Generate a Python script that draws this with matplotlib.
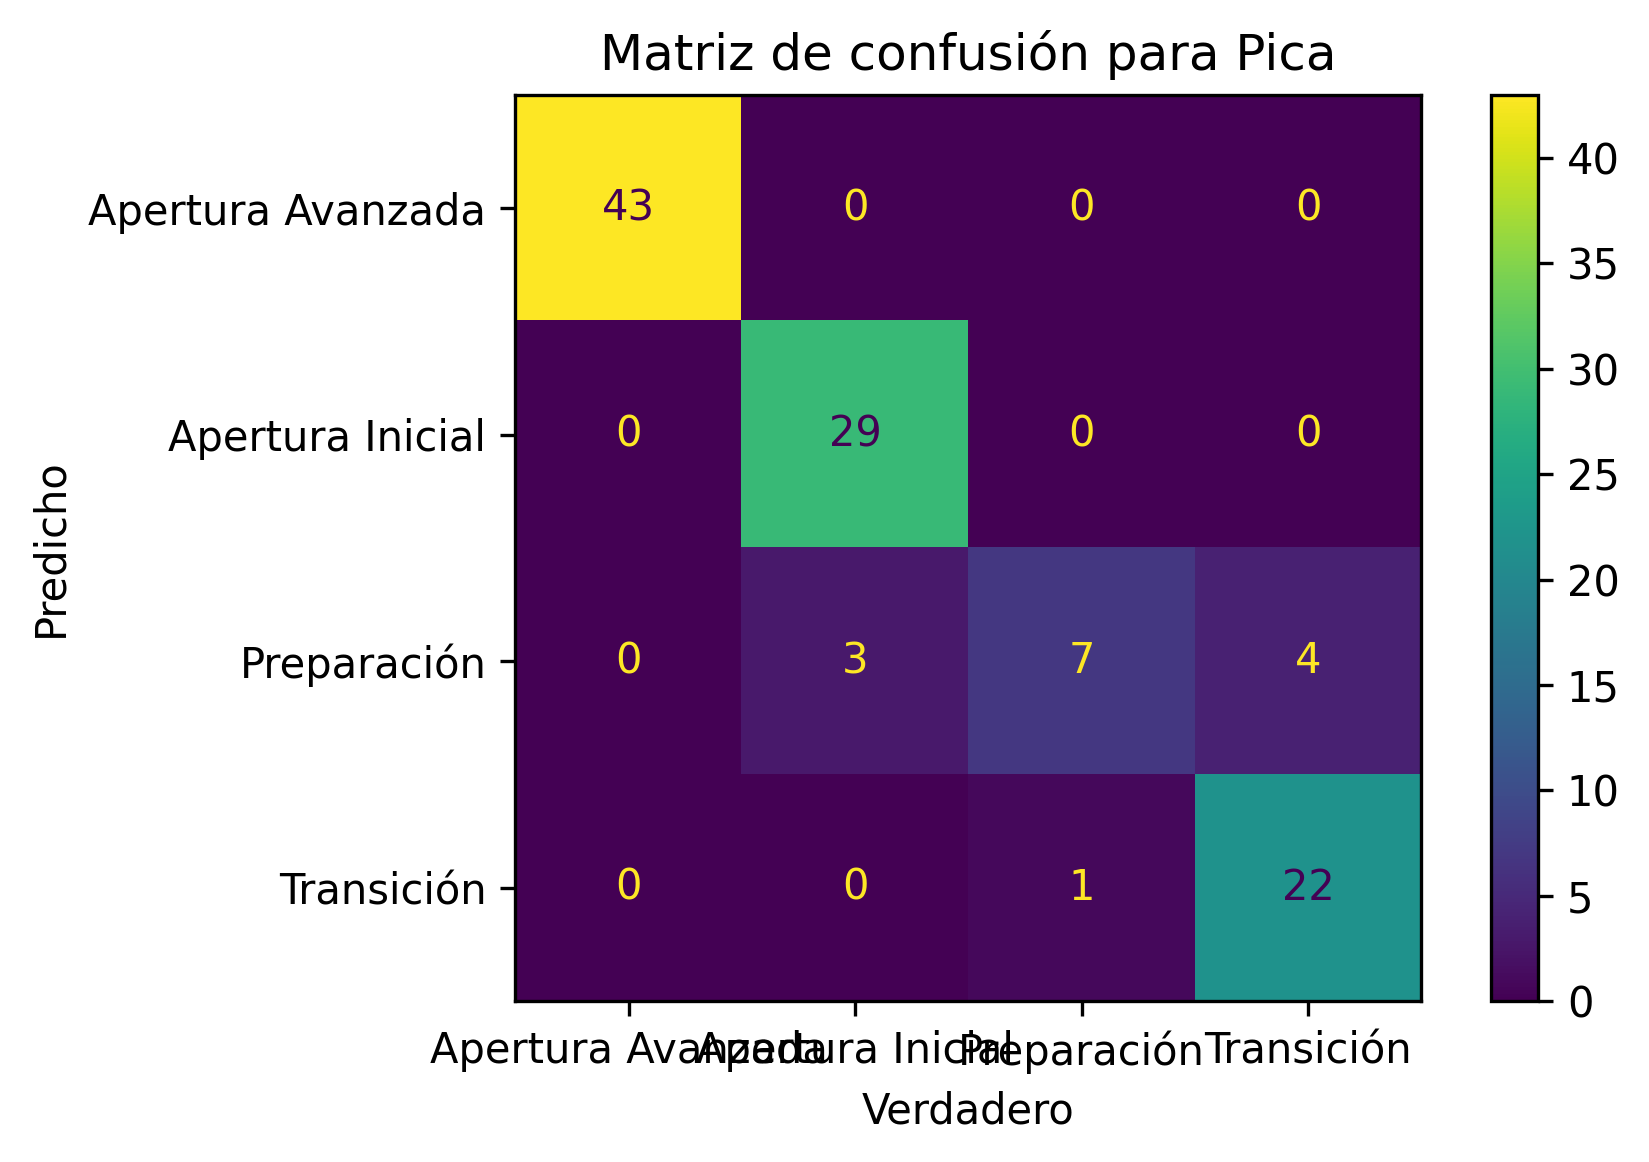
import numpy as np
import matplotlib
matplotlib.use("Agg")
import matplotlib.pyplot as plt

# etiquetas y matriz de confusion (filas = predicho, columnas = verdadero)
labels = ["Apertura Avanzada", "Apertura Inicial", "Preparación", "Transición"]
row_avanzada = [43, 0, 0, 0]
row_inicial = [0, 29, 0, 0]
row_preparacion = [0, 3, 7, 4]
row_transicion = [0, 0, 1, 22]

cm = np.array([row_avanzada, row_inicial, row_preparacion, row_transicion])

fig = plt.figure(figsize=(1649/300, 1162/300), dpi=300)
ax = fig.add_axes([0.3123, 0.1386, 0.55, 0.7797])
cax = fig.add_axes([0.904, 0.1386, 0.0285, 0.7797])

cmap = plt.get_cmap("viridis")
im = ax.imshow(cm, cmap=cmap, interpolation="nearest", vmin=cm.min(), vmax=cm.max())
fig.colorbar(im, cax=cax)

thresh = (cm.max() + cm.min()) / 2.0
for i in range(cm.shape[0]):
    for j in range(cm.shape[1]):
        color = cmap(0) if cm[i, j] > thresh else cmap(1.0)
        ax.text(j, i, str(cm[i, j]), ha="center", va="center", color=color)

ax.set_xticks(np.arange(len(labels)))
ax.set_xticklabels(labels)
ax.set_yticks(np.arange(len(labels)))
ax.set_yticklabels(labels)
ax.set_xlabel("Verdadero")
ax.set_ylabel("Predicho")
ax.set_title("Matriz de confusión para Pica")

fig.savefig("out.png", dpi=300)
